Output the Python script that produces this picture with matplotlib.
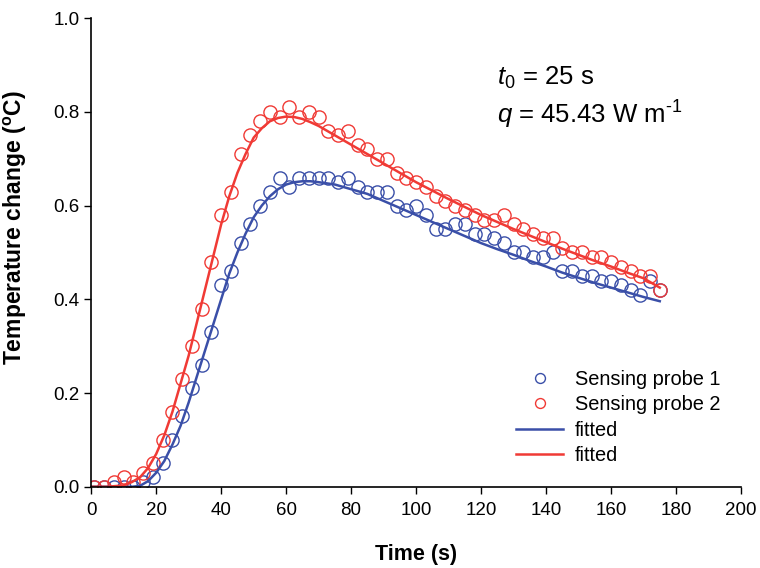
import matplotlib.pyplot as plt

plt.rcParams['font.family'] = ['Liberation Sans', 'DejaVu Sans']
plt.rcParams['mathtext.fontset'] = 'custom'
plt.rcParams['mathtext.rm'] = 'Liberation Sans'
plt.rcParams['mathtext.it'] = 'Liberation Sans:italic'
plt.rcParams['mathtext.bf'] = 'Liberation Sans:bold'

BLUE = '#3a4fa8'
RED = '#f03a35'

# measured points (every 3 s)
t_meas = [1, 4, 7, 10, 13, 16, 19, 22, 25, 28, 31, 34, 37, 40, 43, 46, 49, 52, 55, 58,
          61, 64, 67, 70, 73, 76, 79, 82, 85, 88, 91, 94, 97, 100, 103, 106, 109, 112, 115, 118,
          121, 124, 127, 130, 133, 136, 139, 142, 145, 148, 151, 154, 157, 160, 163, 166, 169, 172, 175]
probe1 = [0.0, 0.0, 0.0, 0.0, 0.0, 0.01, 0.02, 0.05, 0.10, 0.15, 0.21, 0.26, 0.33, 0.43, 0.46, 0.52, 0.56, 0.60, 0.63, 0.66,
          0.64, 0.66, 0.66, 0.66, 0.66, 0.65, 0.66, 0.64, 0.63, 0.63, 0.63, 0.60, 0.59, 0.60, 0.58, 0.55, 0.55, 0.56, 0.56, 0.54,
          0.54, 0.53, 0.52, 0.50, 0.50, 0.49, 0.49, 0.50, 0.46, 0.46, 0.45, 0.45, 0.44, 0.44, 0.43, 0.42, 0.41, 0.44, 0.42]
probe2 = [0.0, 0.0, 0.01, 0.02, 0.01, 0.03, 0.05, 0.10, 0.16, 0.23, 0.30, 0.38, 0.48, 0.58, 0.63, 0.71, 0.75, 0.78, 0.80, 0.79,
          0.81, 0.79, 0.80, 0.79, 0.76, 0.75, 0.76, 0.73, 0.72, 0.70, 0.70, 0.67, 0.66, 0.65, 0.64, 0.62, 0.61, 0.60, 0.59, 0.58,
          0.57, 0.57, 0.58, 0.56, 0.55, 0.54, 0.53, 0.53, 0.51, 0.50, 0.50, 0.49, 0.49, 0.48, 0.47, 0.46, 0.45, 0.45, 0.42]

# fitted curves
t_fit = [0, 5, 10, 12.5, 15, 17.5, 20, 22.5, 25, 27.5, 30, 32.5, 35, 37.5, 40, 42.5, 45, 47.5, 50, 52.5,
         55, 57.5, 60, 62.5, 65, 67.5, 70, 75, 80, 85, 90, 95, 100, 105, 110, 115, 120, 125, 130,
         135, 140, 145, 150, 155, 160, 165, 170, 175]
fit1 = [0.0, 0.0, 0.0, 0.0, 0.002, 0.012, 0.03, 0.055, 0.09, 0.13, 0.18, 0.235, 0.29, 0.345, 0.40, 0.455, 0.50, 0.54, 0.575, 0.60,
        0.62, 0.635, 0.645, 0.65, 0.652, 0.652, 0.65, 0.645, 0.635, 0.625, 0.61, 0.595, 0.58, 0.565, 0.55, 0.535, 0.52, 0.507, 0.495,
        0.482, 0.47, 0.457, 0.446, 0.435, 0.425, 0.415, 0.405, 0.396]
fit2 = [0.0, 0.0, 0.003, 0.01, 0.02, 0.04, 0.07, 0.11, 0.16, 0.22, 0.28, 0.35, 0.42, 0.49, 0.56, 0.62, 0.67, 0.71, 0.745, 0.765,
        0.78, 0.787, 0.79, 0.789, 0.785, 0.778, 0.77, 0.75, 0.73, 0.71, 0.69, 0.67, 0.65, 0.632, 0.614, 0.597, 0.58, 0.565, 0.55,
        0.536, 0.522, 0.508, 0.495, 0.482, 0.47, 0.457, 0.445, 0.425]

fig = plt.figure(figsize=(7.6, 5.68), dpi=100)
ax = fig.add_axes([0.12, 0.143, 0.855, 0.825])

ax.plot(t_meas, probe1, 'o', mfc='none', mec=BLUE, ms=9.5, mew=1.0, label='Sensing probe 1')
ax.plot(t_meas, probe2, 'o', mfc='none', mec=RED, ms=9.5, mew=1.0, label='Sensing probe 2')
ax.plot(t_fit, fit1, '-', color=BLUE, lw=1.8, label='fitted')
ax.plot(t_fit, fit2, '-', color=RED, lw=1.8, label='fitted')

ax.set_xlim(0, 200)
ax.set_ylim(0, 1.0)
ax.set_xticks(range(0, 201, 20))
ax.set_yticks([0.0, 0.2, 0.4, 0.6, 0.8, 1.0])
ax.set_yticklabels(['0.0', '0.2', '0.4', '0.6', '0.8', '1.0'])
ax.tick_params(direction='out', length=5, width=1, labelsize=13.5)
ax.tick_params(axis='x', pad=6)
for s in ['top', 'right']:
    ax.spines[s].set_visible(False)
for s in ['left', 'bottom']:
    ax.spines[s].set_linewidth(1.2)

ax.set_xlabel('Time (s)', fontsize=15.5, fontweight='bold', labelpad=18)
ax.set_ylabel('Temperature change ($^{\\mathbf{o}}$C)', fontsize=16.5, fontweight='bold')
ax.yaxis.set_label_coords(-0.096, 0.554)

ax.text(125, 0.857, r'$t_0$ = 25 s', fontsize=18.5)
ax.text(125, 0.776, '$q$ = 45.43 W m$^{\\mathrm{\u2010}1}$', fontsize=18.5)

ax.legend(loc='upper left', bbox_to_anchor=(0.654, 0.25), frameon=False, fontsize=14.4,
          handlelength=2.35, handletextpad=0.6, markerscale=0.75, labelspacing=0.33,
          borderpad=0, borderaxespad=0)

fig.savefig('out.png', dpi=100)
